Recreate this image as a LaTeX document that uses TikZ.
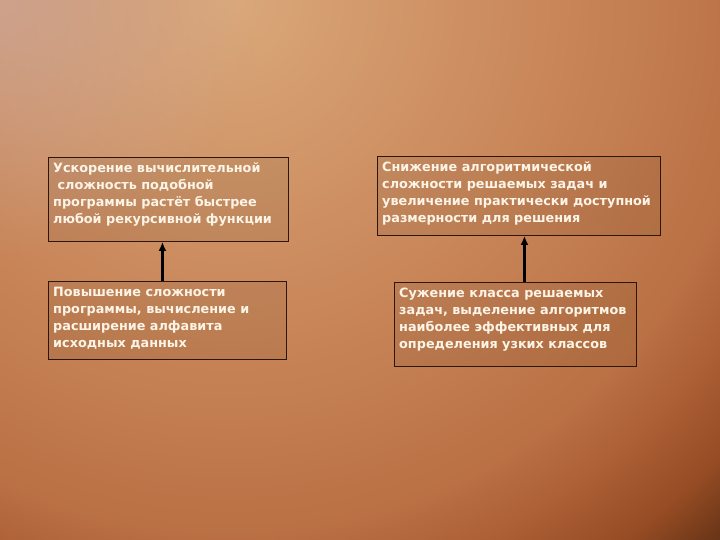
\documentclass[tikz,border=0pt]{standalone}
\usepackage{fontspec}
\setmainfont{DejaVu Sans}
\usetikzlibrary{arrows.meta,fadings}

\definecolor{rahmen}{RGB}{45,22,10}
\definecolor{schrift}{RGB}{252,244,230}
\definecolor{rosa}{RGB}{205,170,158}
\definecolor{hg0}{RGB}{218,168,122}
\definecolor{hg1}{RGB}{200,133,88}
\definecolor{hg2}{RGB}{186,113,68}
\definecolor{hg3}{RGB}{174,96,54}
\definecolor{hg4}{RGB}{150,76,36}
\definecolor{hg5}{RGB}{102,52,22}
\definecolor{hg6}{RGB}{86,42,18}
\pgfdeclareradialshading{hintergrund}{\pgfpoint{0bp}{0bp}}{%
  color(0bp)=(hg0); color(11bp)=(hg1); color(17.5bp)=(hg2);
  color(19.5bp)=(hg3); color(22bp)=(hg4); color(24bp)=(hg5);
  color(25bp)=(hg6); color(50bp)=(hg6)}
\tikzfading[name=rosafade, inner color=transparent!0, outer color=transparent!100]

\tikzset{
  kasten/.style={draw=rahmen, line width=0.9pt, fill=black, fill opacity=0.06,
    anchor=north west, inner sep=0pt},
  txt/.style={anchor=north west, text=schrift, align=left, inner xsep=5pt,
    inner ysep=6pt, font=\fontsize{12.8}{17}\selectfont\bfseries},
  pfeil/.style={line width=2.6pt, black, -{Latex[length=9pt,width=8pt]}}
}

\begin{document}
\begin{tikzpicture}[x=1pt,y=-1pt]

\useasboundingbox (0,0) rectangle (720,540);
\begin{scope}
\clip (0,0) rectangle (720,540);
\shade[shading=hintergrund] (230,0) circle (760pt);
\fill[rosa, path fading=rosafade, opacity=0.7] (0,0) circle (260pt);
\end{scope}

% obere Reihe
\node[kasten, minimum width=240pt, minimum height=84pt] (uskor) at (48,157) {};
\node[txt] (uskorT) at (uskor.north west) {Ускорение вычислительной\\ \ сложность подобной\\программы растёт быстрее\\любой рекурсивной функции};

\node[kasten, minimum width=283pt, minimum height=79pt] (snizh) at (377,156) {};
\node[txt] (snizhT) at (snizh.north west) {Снижение алгоритмической\\сложности решаемых задач и\\увеличение практически доступной\\размерности для решения};

% untere Reihe
\node[kasten, minimum width=238pt, minimum height=78pt] (povysh) at (48,281) {};
\node[txt] (povyshT) at (povysh.north west) {Повышение сложности\\программы, вычисление и\\расширение алфавита\\исходных данных};

\node[kasten, minimum width=242pt, minimum height=84pt] (suzh) at (394,282) {};
\node[txt] (suzhT) at (suzh.north west) {Сужение класса решаемых\\задач, выделение алгоритмов\\наиболее эффективных для\\определения узких классов};

\draw[pfeil] ([xshift=-5pt]povysh.north) -- ([xshift=-6pt]uskor.south);
\draw[pfeil] ([xshift=9pt]suzh.north) -- ([xshift=5.5pt]snizh.south);

\end{tikzpicture}
\end{document}
